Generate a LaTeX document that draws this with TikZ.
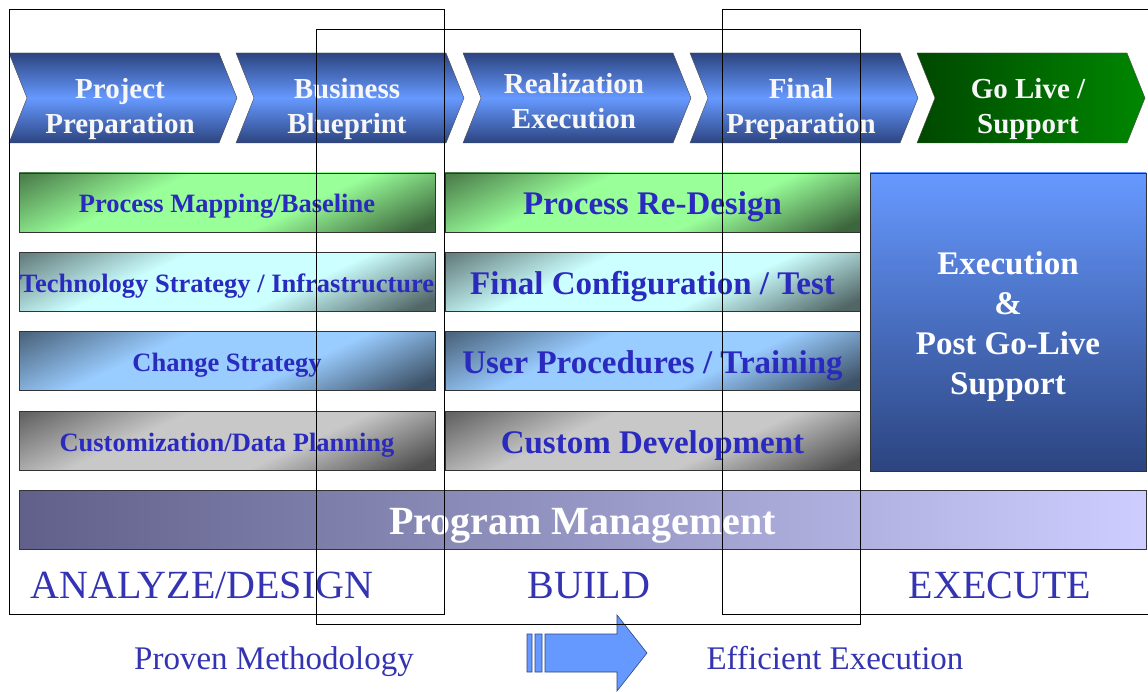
\documentclass[tikz,border=0pt]{standalone}
\usepackage{fontspec}
\setmainfont{Liberation Serif}
\usetikzlibrary{positioning}
\definecolor{navy}{RGB}{44,68,128}
\definecolor{sky}{RGB}{102,153,255}
\definecolor{ink}{RGB}{42,42,190}
\definecolor{labelblue}{RGB}{52,52,178}
\definecolor{deepgreen}{RGB}{0,72,0}
\definecolor{leafgreen}{RGB}{0,135,0}
\definecolor{mapgreen}{RGB}{153,255,153}
\definecolor{techcyan}{RGB}{204,255,255}
\definecolor{changeblue}{RGB}{153,204,255}
\definecolor{devgray}{RGB}{200,200,200}
\definecolor{pmdark}{RGB}{96,96,138}
\definecolor{pmlight}{RGB}{205,205,255}
\newcommand\rowshading[2]{\pgfdeclareverticalshading{#1}{100bp}{color(0bp)=(#2!40!black); color(20bp)=(#2!40!black);
  color(40bp)=(#2); color(62bp)=(#2); color(82bp)=(#2!50!black); color(100bp)=(#2!50!black)}}
\rowshading{maprow}{mapgreen}
\rowshading{techrow}{techcyan}
\rowshading{changerow}{changeblue}
\rowshading{devrow}{devgray}
\tikzset{
  phase/.style={draw=gray!60!black, top color=navy, bottom color=navy, middle color=sky},
  golive/.style={draw=gray!60!black, left color=deepgreen, right color=leafgreen},
  phasetext/.style={align=center, text=white!94!gray, font=\bfseries\fontsize{29}{35}\selectfont},
  task/.style={draw=gray!40!black, minimum height=59pt, inner sep=0pt, text depth=0pt,
    shade, shading=#1, shading angle=25},
  lefttask/.style={task=#1, minimum width=416pt, text height=20.4pt, text=ink, font=\bfseries\fontsize{26.5}{30}\selectfont},
  midtask/.style={task=#1, minimum width=415pt, text height=25pt, text=ink, font=\bfseries\fontsize{33}{38}\selectfont},
  stagelabel/.style={anchor=base, text=labelblue, font=\fontsize{40}{46}\selectfont},
  claim/.style={anchor=base, text=labelblue, font=\fontsize{33}{38}\selectfont},
  frame/.style={draw=black, line width=0.8pt}
}
\begin{document}
\begin{tikzpicture}[x=1pt, y=-1pt]
\useasboundingbox[fill=white] (0,0) rectangle (1148,692);
\foreach \name/\txt/\sty/\ty [count=\k from 0] in
  {prep/{Project\\Preparation}/phase/109, blueprint/{Business\\Blueprint}/phase/109,
   realize/{Realization\\Execution}/phase/101, finalprep/{Final\\Preparation}/phase/109,
   golive/{Go Live /\\Support}/golive/109}
{
  \path[\sty] ({9+227*\k},53) -- ++(210,0) -- ++(18,45) -- ++(-18,45) -- ++(-210,0) -- ++(18,-45) -- cycle;
  \node[phasetext] (\name) at ({120+227*\k},\ty) {\txt};
}
\node[lefttask=maprow] (mapping) at (227,202.5) {Process Mapping/Baseline};
\node[lefttask=techrow] (techstrat) at (227,282) {Technology Strategy / Infrastructure};
\node[lefttask=changerow] (change) at (227,361) {Change Strategy};
\node[lefttask=devrow] (custplan) at (227,441) {Customization/Data Planning};
\node[midtask=maprow] (redesign) at (652.5,202.5) {Process Re-Design};
\node[midtask=techrow] (config) at (652.5,282) {Final Configuration / Test};
\node[midtask=changerow] (training) at (652.5,361) {User Procedures / Training};
\node[midtask=devrow] (customdev) at (652.5,441) {Custom Development};
\node[draw=gray!40!black, minimum width=276pt, minimum height=298pt, top color=sky, bottom color=navy] (support) at (1008,322) {};
\node[align=center, text=white, font=\bfseries\fontsize{33}{40}\selectfont] (supporttext) at ([yshift=-4.5pt]support.center)
  {Execution\\\&\\Post Go-Live\\Support};
\node[draw=gray!40!black, minimum width=1127pt, minimum height=59pt, left color=pmdark, right color=pmlight,
  text height=29.4pt, text depth=0pt, text=white, font=\bfseries\fontsize{40}{46}\selectfont] (progmgmt) at (582.5,519.5)
  {Program Management};
\node[stagelabel] (analyze) at (202,598) {ANALYZE/DESIGN};
\node[stagelabel] (build) at (589,598) {BUILD};
\node[stagelabel] (execute) at (1000,598) {EXECUTE};
\node[claim] (proven) at (274,669) {Proven Methodology};
\node[claim] (efficient) at (835,669) {Efficient Execution};
% arrow between the two claims
\path[fill=sky, draw=navy, line width=0.6pt] (527,634) rectangle (532,672) (535,634) rectangle (542,672)
  (545,634) -- (617,634) -- (617,615) -- (647,653) -- (617,691) -- (617,672) -- (545,672) -- cycle;
% phase frames
\draw[frame] (9,9) rectangle (444,614);
\draw[frame] (316,29) rectangle (860,624);
\draw[frame] (1148,9) -| (722,614) -- (1148,614);
\end{tikzpicture}
\end{document}
